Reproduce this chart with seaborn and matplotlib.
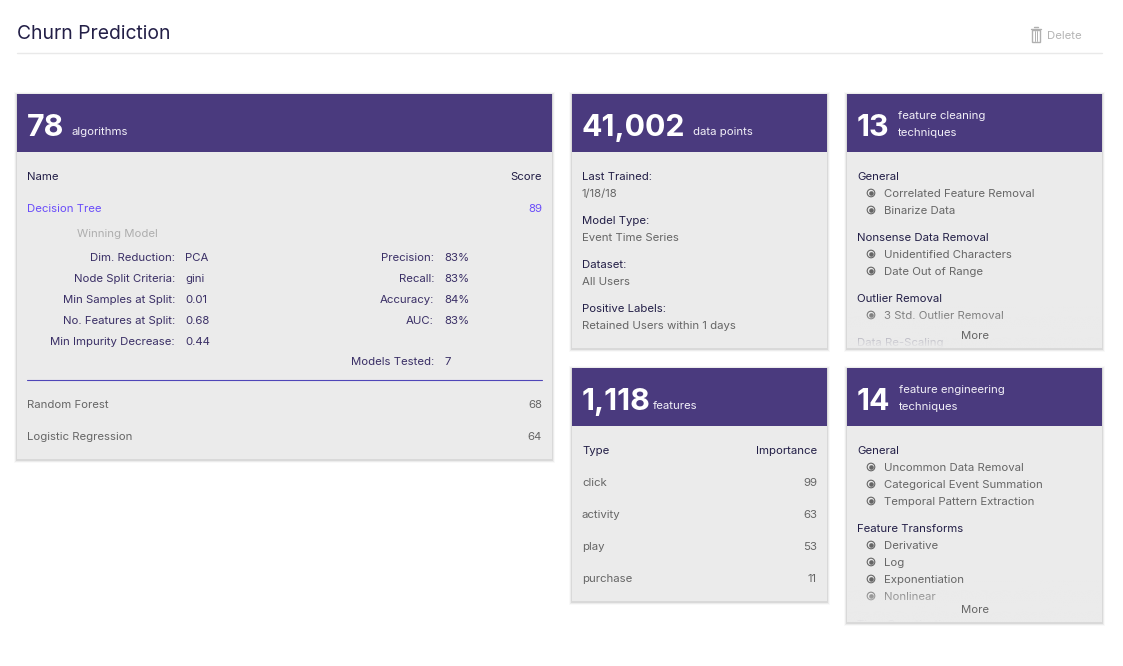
import numpy as np
import pandas as pd
import seaborn as sns
import matplotlib.pyplot as plt
from matplotlib.patches import Rectangle

PURPLE = "#4a3a7e"
CARD = "#ebebeb"
DARK = "#231f47"
PARAM = "#3a2f66"
GRAY = "#666666"
LINK = "#6a4dfa"
BODY_SIZE = 11.4

# Card 1: algorithms
algo_count = "78"
algo_names = ["Decision Tree", "Random Forest", "Logistic Regression"]
algo_scores = [89, 68, 64]
param_labels = ["Dim. Reduction:", "Node Split Criteria:", "Min Samples at Split:",
                "No. Features at Split:", "Min Impurity Decrease:"]
param_values = ["PCA", "gini", "0.01", "0.68", "0.44"]
metric_labels = ["Precision:", "Recall:", "Accuracy:", "AUC:"]
metric_values = ["83%", "83%", "84%", "83%"]
models_tested = 7

# Card 2: data points
data_count = "41,002"
info_labels = ["Last Trained:", "Model Type:", "Dataset:", "Positive Labels:"]
info_values = ["1/18/18", "Event Time Series", "All Users", "Retained Users within 1 days"]

# Card 3: features
feature_count = "1,118"
feature_types = ["click", "activity", "play", "purchase"]
feature_importance = [99, 63, 53, 11]

# Card 4 and 5: techniques
cleaning_count = "13"
cleaning_groups = ["General", "Nonsense Data Removal", "Outlier Removal", "Data Re-Scaling"]
cleaning_items = [["Correlated Feature Removal", "Binarize Data"],
                  ["Unidentified Characters", "Date Out of Range"],
                  ["3 Std. Outlier Removal"],
                  []]
engineering_count = "14"
engineering_groups = ["General", "Feature Transforms", "Time Quantization"]
engineering_items = [["Uncommon Data Removal", "Categorical Event Summation", "Temporal Pattern Extraction"],
                     ["Derivative", "Log", "Exponentiation", "Nonlinear"],
                     []]

sns.set_theme(style="white")
plt.rcParams["font.family"] = ["Inter", "DejaVu Sans"]

fig = plt.figure(figsize=(11.23, 6.66), dpi=100)
ax = fig.add_axes([0, 0, 1, 1])
ax.set_xlim(0, 1123)
ax.set_ylim(666, 0)
ax.axis("off")


def txt(x, y, s, size=BODY_SIZE, color=DARK, ha="left", weight="normal", clip=None):
    t = ax.text(x, y + 4.2, s, fontsize=size * 0.72, color=color, ha=ha, va="baseline",
                weight=weight, zorder=5)
    if clip is not None:
        t.set_clip_path(clip)
        t.set_clip_on(True)
    return t


def card(x0, y0, x1, y1, count, unit_lines, unit_x):
    # soft shadow, heavier under the card
    for grow, alpha in [(3, 0.025), (2, 0.05), (1, 0.08)]:
        ax.add_patch(Rectangle((x0 - grow, y0 - grow + 1), x1 - x0 + 2 * grow, y1 - y0 + 2 * grow,
                               fc="black", ec="none", alpha=alpha, zorder=1))
    body = Rectangle((x0, y0), x1 - x0, y1 - y0, fc=CARD, ec="none", zorder=2)
    ax.add_patch(body)
    ax.add_patch(Rectangle((x0, y0), x1 - x0, 58, fc=PURPLE, ec="none", zorder=3))
    ax.text(x0 + 9.5, y0 + 41.5, count, fontsize=30.3 * 0.72, color="white", weight="bold",
            va="baseline", zorder=5)
    if len(unit_lines) == 1:
        txt(unit_x, y0 + 37, unit_lines[0], color="#f2f0f8")
    else:
        txt(unit_x, y0 + 21, unit_lines[0], color="#f2f0f8")
        txt(unit_x, y0 + 38, unit_lines[1], color="#f2f0f8")
    return body


def fade(x0, x1, y0, y1):
    # gradient that hides the list running off the bottom of the card
    rgba = np.zeros((64, 2, 4))
    rgba[..., :3] = [c / 255 for c in (235, 235, 235)]
    rgba[..., 3] = np.linspace(0, 1, 64)[:, None]
    ax.imshow(rgba, extent=(x0, x1, y1, y0), aspect="auto", zorder=6, interpolation="bilinear")
    ax.set_xlim(0, 1123)
    ax.set_ylim(666, 0)


def technique_list(x, y_top, y_bottom, groups, items, body):
    y = y_top
    bx, by = [], []
    for group, rows in zip(groups, items):
        txt(x, y, group, clip=body)
        y += 17
        for row in rows:
            txt(x + 27, y, row, color=GRAY, clip=body)
            bx.append(x + 14)
            by.append(y)
            y += 17
        y += 10
    pts = pd.DataFrame({"x": bx, "y": by})
    sns.scatterplot(data=pts, x="x", y="y", ax=ax, s=30, facecolor="none", edgecolor="#666666",
                    linewidth=0.8, zorder=4, legend=False)
    sns.scatterplot(data=pts, x="x", y="y", ax=ax, s=11, color="#666666", linewidth=0,
                    zorder=4, legend=False)
    ax.set_xlabel("")
    ax.set_ylabel("")
    fade(x - 9, x + 244, y_bottom - 42, y_bottom)


# page header
ax.text(17, 39, "Churn Prediction", fontsize=19.3 * 0.72, color=DARK, va="baseline")
ax.plot([17, 1102], [53, 53], color="#e9e9e9", lw=1)
txt(1047, 35, "Delete", color="#b4b4b4")
# trash icon
ax.add_patch(Rectangle((1032, 30), 7.5, 11.5, fc="none", ec="#b0b0b0", lw=1))
ax.plot([1030.5, 1041], [28.5, 28.5], color="#b0b0b0", lw=1)
ax.plot([1033.5, 1038], [27, 27], color="#b0b0b0", lw=1)
for tx in (1034.5, 1037):
    ax.plot([tx, tx], [31, 40.5], color="#b0b0b0", lw=0.7)

# card 1
card(17, 94, 552, 459, algo_count, ["algorithms"], 71)
txt(27, 176, "Name")
txt(542, 176, "Score", ha="right")
txt(27, 208, algo_names[0], color=LINK)
txt(542, 208, str(algo_scores[0]), color=LINK, ha="right")
txt(77, 233, "Winning Model", color="#aeaeae")
for i, (lab, val) in enumerate(zip(param_labels, param_values)):
    txt(175, 257 + 21 * i, lab, ha="right", color=PARAM)
    txt(185, 257 + 21 * i, val, color=PARAM)
for i, (lab, val) in enumerate(zip(metric_labels, metric_values)):
    txt(434, 257 + 21 * i, lab, ha="right", color=PARAM)
    txt(444, 257 + 21 * i, val, color=PARAM)
txt(434, 361, "Models Tested:", ha="right", color=PARAM)
txt(444, 361, str(models_tested), color=PARAM)
ax.plot([27, 542], [380, 380], color="#4f46b8", lw=0.8, zorder=5)
for i, (name, score) in enumerate(zip(algo_names[1:], algo_scores[1:])):
    txt(27, 404 + 32 * i, name, color=GRAY)
    txt(542, 404 + 32 * i, str(score), color=GRAY, ha="right")

# card 2
card(572, 94, 827, 348, data_count, ["data points"], 693)
for i, (lab, val) in enumerate(zip(info_labels, info_values)):
    txt(582, 176 + 44 * i, lab)
    txt(582, 193 + 44 * i, val, color=GRAY)

# card 3
card(572, 368, 827, 601, feature_count, ["features"], 653)
txt(582, 450, "Type")
txt(817, 450, "Importance", ha="right")
for i, (name, imp) in enumerate(zip(feature_types, feature_importance)):
    txt(582, 482 + 32 * i, name, color=GRAY)
    txt(817, 482 + 32 * i, str(imp), color=GRAY, ha="right")

# card 4
body = card(847, 94, 1102, 348, cleaning_count, ["feature cleaning", "techniques"], 898)
technique_list(857, 176, 348, cleaning_groups, cleaning_items, body)
txt(975, 335, "More", color=GRAY, ha="center").set_zorder(7)

# card 5
body = card(847, 368, 1102, 622, engineering_count, ["feature engineering", "techniques"], 899)
technique_list(857, 450, 622, engineering_groups, engineering_items, body)
txt(975, 609, "More", color=GRAY, ha="center").set_zorder(7)

fig.savefig("out.png", dpi=100, facecolor="white")
